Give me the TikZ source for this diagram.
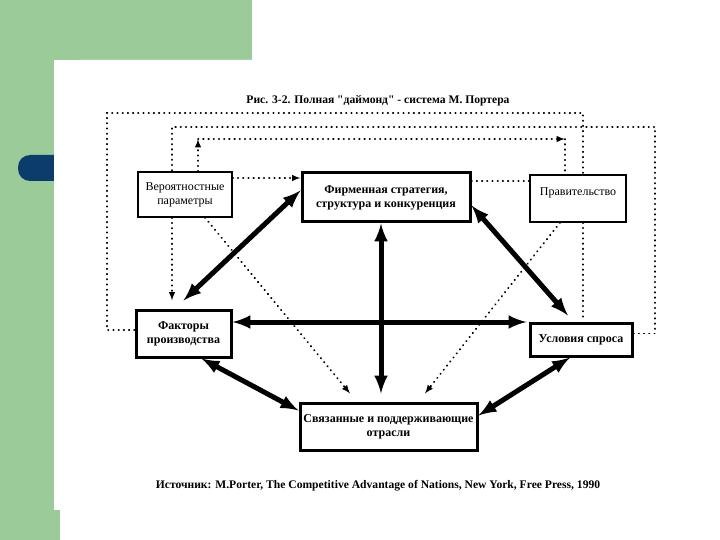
\documentclass[tikz,border=0pt]{standalone}
\usepackage{fontspec}
\setmainfont{Liberation Serif}
\usepackage{xcolor}

\definecolor{slidegreen}{RGB}{155,203,152}
\definecolor{slideblue}{RGB}{12,60,108}

\tikzset{
  >=latex,
  thinbox/.style={draw, line width=1.3pt, fill=white, align=center, inner sep=2pt, font=\fontsize{12}{14}\selectfont},
  thickbox/.style={draw, line width=3pt, fill=white, align=center, inner sep=2pt, font=\fontsize{12}{14}\selectfont\bfseries},
  strong/.style={<->, line width=5pt},
  weak/.style={line width=1.9pt, line cap=round, dash pattern=on 0.4pt off 4.8pt}
}

\begin{document}
\begin{tikzpicture}[x=1pt, y=-1pt]
\useasboundingbox (0,0) rectangle (720,540);
\fill[white] (0,0) rectangle (720,540);
\fill[slidegreen] (0,0) rectangle (252,60);
\fill[slidegreen] (0,0) rectangle (54,540);
\fill[slideblue, rounded corners=12pt] (18,155) rectangle (80,181);
\fill[white, rounded corners=25pt] (54,60) rectangle (760,580);
\fill[slidegreen] (0,510) rectangle (60,540);

\node (title) at (378,101) {\fontsize{11.6}{13}\selectfont\bfseries Рис. 3-2. Полная \textquotedbl даймонд\textquotedbl{} - система М. Портера};
\node (source) at (378,486) {\fontsize{11.6}{13}\selectfont\bfseries Источник: M.Porter, The Competitive Advantage of Nations, New York, Free Press, 1990};

\node[thinbox, minimum width=94pt, minimum height=45pt] (chance) at (185,194.5) {Вероятностные\\параметры};
\node[thickbox, minimum width=168pt, minimum height=49pt] (firm) at (386,197.5) {Фирменная стратегия,\\структура и конкуренция};
\node[thinbox, minimum width=96pt, minimum height=47pt] (gov) at (578,198.5) {Правительство\\\mbox{}};
\node[thickbox, minimum width=95pt, minimum height=47pt] (factor) at (183.5,333.5) {Факторы\\производства};
\node[thickbox, minimum width=102pt, minimum height=33pt] (demand) at (581,339.5) {Условия спроса};
\node[thickbox, minimum width=177pt, minimum height=47pt] (related) at (388.5,426.5) {Связанные и поддерживающие\\отрасли};

\coordinate (outA) at (107,113);
\coordinate (outB) at (583,113);
\coordinate (inA) at (655,127);
\coordinate (topL) at (198,139);
\coordinate (topR) at (565,139);

% dotted links
\draw[weak] ([yshift=3.5pt]factor.west) -| (outA) -- (outB) -- ([xshift=5pt]gov.north);
\draw[weak] ([xshift=5pt]gov.south) -- ([xshift=2pt,yshift=3pt]demand.north);
\draw[weak] ([yshift=6pt]demand.east) -| (inA) -| ([xshift=-13pt]chance.north);
\draw[weak,->] ([xshift=-13pt]chance.south) -- ([xshift=-11.5pt,yshift=8pt]factor.north);
\draw[weak,->] ([xshift=13pt]chance.north) -- (topL);
\draw[weak,->] (topL) -- (topR);
\draw[weak] (topR) -- ([xshift=-13pt]gov.north);
\draw[weak,->] ([yshift=16.5pt]chance.east) -- ([yshift=19.5pt]firm.west);
\draw[weak] ([yshift=16.5pt]firm.east) -- ([yshift=17.5pt]gov.west);
\draw[weak,->] ([xshift=20pt]chance.south) -- ([xshift=-38.5pt,yshift=8pt]related.north);
\draw[weak,->] ([xshift=-18pt]gov.south) -- ([xshift=36.5pt,yshift=8pt]related.north);

% diamond
\draw[strong] ([yshift=7pt]firm.west) -- ([yshift=8pt]factor.north);
\draw[strong] ([yshift=-8pt]firm.east) -- ([xshift=-13pt,yshift=6pt]demand.north);
\draw[strong] ([xshift=-5pt]firm.south) -- ([xshift=-7.5pt,yshift=8pt]related.north);
\draw[strong] ([yshift=11.5pt]factor.east) -- ([xshift=-2pt,yshift=17.5pt]demand.west);
\draw[strong] ([xshift=18pt]factor.south) -- ([yshift=16pt]related.west);
\draw[strong] ([xshift=-11pt]demand.south) -- ([yshift=11pt]related.east);
\end{tikzpicture}
\end{document}
